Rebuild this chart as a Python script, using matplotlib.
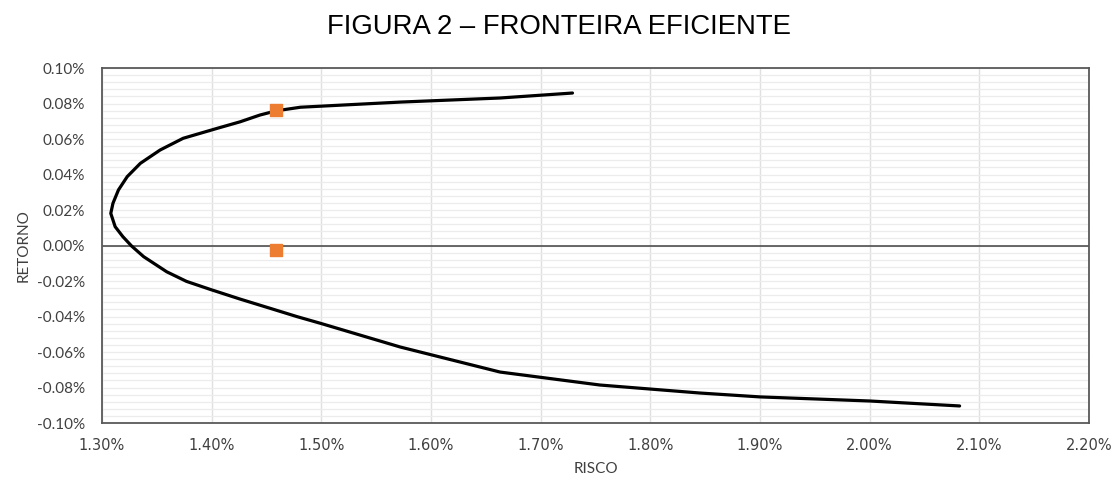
import matplotlib
matplotlib.use("Agg")
import matplotlib.pyplot as plt
from matplotlib.ticker import FuncFormatter, MultipleLocator

# efficient frontier (risk %, return %), top end -> bottom end
risco = [1.729, 1.663, 1.572, 1.481, 1.459, 1.444, 1.426, 1.405, 1.374, 1.353,
         1.335, 1.323, 1.315, 1.310, 1.308, 1.312, 1.319, 1.327, 1.338, 1.359,
         1.377, 1.399, 1.426, 1.456, 1.478, 1.499, 1.572, 1.663, 1.754, 1.845,
         1.900, 2.000, 2.082]
retorno = [0.0859, 0.0831, 0.0808, 0.0779, 0.0759, 0.0735, 0.0697, 0.0660, 0.0604, 0.0538,
           0.0463, 0.0388, 0.0313, 0.0238, 0.0181, 0.0106, 0.0050, -0.0003, -0.0063, -0.0148,
           -0.0202, -0.0248, -0.0302, -0.0359, -0.0401, -0.0438, -0.0572, -0.0713, -0.0786, -0.0831,
           -0.0853, -0.0876, -0.0904]

# two portfolios marked in orange
pontos_risco = [1.459, 1.459]
pontos_retorno = [0.0763, -0.0025]


def pct(v, pos):
    if abs(v) < 1e-9:
        v = 0.0
    return f"{v:.2f}%"


fig = plt.figure(figsize=(11.17, 4.79), dpi=100)
ax = fig.add_axes([102 / 1117, 1 - 423 / 479, 987 / 1117, 355 / 479])

ax.set_xlim(1.30, 2.20)
ax.set_ylim(-0.10, 0.10)
ax.xaxis.set_major_locator(MultipleLocator(0.10))
ax.yaxis.set_major_locator(MultipleLocator(0.02))
ax.yaxis.set_minor_locator(MultipleLocator(0.004))

ax.grid(axis="x", which="major", color="#e0e0e0", linewidth=1)
ax.grid(axis="y", which="major", color="#ececec", linewidth=0.9)
ax.grid(axis="y", which="minor", color="#ececec", linewidth=0.9)
ax.set_axisbelow(True)

ax.axhline(0, color="#404040", linewidth=1.1, zorder=2)
ax.plot(risco, retorno, color="black", linewidth=2.3, zorder=3,
        solid_joinstyle="round", solid_capstyle="round")
ax.scatter(pontos_risco, pontos_retorno, marker="s", s=70, color="#ed7d31", zorder=4)

for s in ax.spines.values():
    s.set_color("#595959")
    s.set_linewidth(1.3)

ax.tick_params(which="both", length=0)
ax.tick_params(axis="x", pad=11)
ax.tick_params(axis="y", pad=12)
ax.xaxis.set_major_formatter(FuncFormatter(pct))
ax.yaxis.set_major_formatter(FuncFormatter(pct))

# fix the tick label fonts once the labels exist
fig.canvas.draw()
for lbl in ax.xaxis.get_majorticklabels():
    lbl.set_family("DejaVu Sans")
    lbl.set_size(10.5)
    lbl.set_color("#404040")
for lbl in ax.yaxis.get_majorticklabels():
    lbl.set_family("Lato")
    lbl.set_size(11)
    lbl.set_color("#404040")

ax.set_xlabel("RISCO", fontfamily="Lato", fontsize=11, color="#404040", labelpad=6)
ax.set_ylabel("RETORNO", fontfamily="Lato", fontsize=11, color="#404040", labelpad=5)

fig.text(0.5, 1 - 27 / 479, "FIGURA 2 – FRONTEIRA EFICIENTE", ha="center", va="center",
         fontfamily="Liberation Sans", fontsize=19.8, color="black")

fig.savefig("out.png", dpi=100, facecolor="white")
